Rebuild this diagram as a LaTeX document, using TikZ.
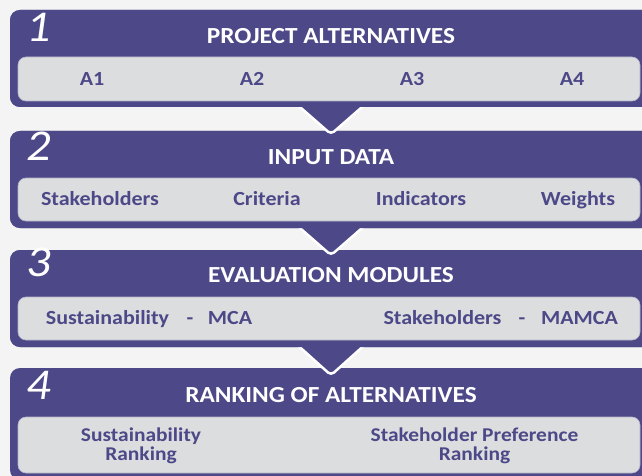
\documentclass[tikz,border=0pt]{standalone}
\usepackage{fontspec}
\setmainfont{Carlito}[FakeStretch=1.1]
\definecolor{pur}{HTML}{4D4887}
\definecolor{innerg}{HTML}{DCDDDF}
\definecolor{innerl}{HTML}{B4B2C8}
\definecolor{bgc}{HTML}{F4F4F4}
\begin{document}
\begin{tikzpicture}[x=1pt,y=-1pt,
  panel/.style={rectangle, fill=pur, rounded corners=10pt, minimum width=642pt, inner sep=0pt},
  innerbox/.style={rectangle, fill=innerg, draw=innerl, line width=0.6pt, rounded corners=8pt, minimum width=622pt, inner sep=0pt},
  title/.style={text=white, font=\bfseries\fontsize{23}{26}\selectfont, inner sep=0pt, text height=14.8pt, text depth=0pt},
  item/.style={text=pur, font=\bfseries\fontsize{20}{18}\selectfont, inner sep=0pt, text height=12.9pt, text depth=0pt},
  twoline/.style={text=pur, font=\bfseries\fontsize{19.5}{19}\selectfont, inner sep=0pt, align=center},
  num/.style={text=white, font=\itshape\fontsize{44}{44}\selectfont, inner sep=0pt},
  pointer/.style={fill=pur, draw=white, line width=2.5pt, rounded corners=4pt}
]
\clip (0,0) rectangle (642,476);
\fill[bgc] (0,0) rectangle (642,476);

% panel 4
\node[panel, minimum height=112pt] (p4) at (331,424) {};
\node[innerbox, minimum height=56pt] (i4) at (329,445) {};
% panel 3 with its pointer
\node[panel, minimum height=97pt] (p3) at (331,298.5) {};
\fill[pointer] ([xshift=-40pt,yshift=8pt]p3.south) -- ([yshift=-28pt]p3.south) -- ([xshift=40pt,yshift=8pt]p3.south) -- cycle;
\node[panel, minimum height=97pt] (p3b) at (331,298.5) {};
\node[innerbox, minimum height=43pt] (i3) at (329,318.5) {};
% panel 2 with its pointer
\node[panel, minimum height=97pt] (p2) at (331,179.5) {};
\fill[pointer] ([xshift=-40pt,yshift=8pt]p2.south) -- ([yshift=-27pt]p2.south) -- ([xshift=40pt,yshift=8pt]p2.south) -- cycle;
\node[panel, minimum height=97pt] (p2b) at (331,179.5) {};
\node[innerbox, minimum height=43pt] (i2) at (329,199.5) {};
% panel 1 with its pointer
\node[panel, minimum height=97pt] (p1) at (331,58.5) {};
\fill[pointer] ([xshift=-40pt,yshift=8pt]p1.south) -- ([yshift=-27pt]p1.south) -- ([xshift=40pt,yshift=8pt]p1.south) -- cycle;
\node[panel, minimum height=97pt] (p1b) at (331,58.5) {};
\node[innerbox, minimum height=44pt] (i1) at (329,79) {};

% numbers
\node[num] (n1) at (39,27) {1};
\node[num] (n2) at (39,146) {2};
\node[num] (n3) at (39,262) {3};
\node[num] (n4) at (39,385) {4};

% titles
\node[title] (t1) at (331,36) {PROJECT ALTERNATIVES};
\node[title] (t2) at (331,157.5) {INPUT DATA};
\node[title] (t3) at (331,275.5) {EVALUATION MODULES};
\node[title] (t4) at (331,395.5) {RANKING OF ALTERNATIVES};

% items
\node[item] (a1) at (92,79) {A1};
\node[item] (a2) at (252,79) {A2};
\node[item] (a3) at (412,79) {A3};
\node[item] (a4) at (572,79) {A4};

\node[item] (b1) at (100,199.5) {Stakeholders};
\node[item] (b2) at (267,199.5) {Criteria};
\node[item] (b3) at (421,199.5) {Indicators};
\node[item] (b4) at (578,199.5) {Weights};

\node[item] (c1) at (107.5,318.5) {Sustainability};
\node[item] (c2) at (190,318.5) {-};
\node[item] (c3) at (230,318.5) {MCA};
\node[item] (c4) at (442.5,318.5) {Stakeholders};
\node[item] (c5) at (522,318.5) {-};
\node[item] (c6) at (579.5,318.5) {MAMCA};

\node[twoline] (d1) at (141,446) {Sustainability\\Ranking};
\node[twoline] (d2) at (474.5,446) {Stakeholder Preference\\Ranking};
\end{tikzpicture}
\end{document}
